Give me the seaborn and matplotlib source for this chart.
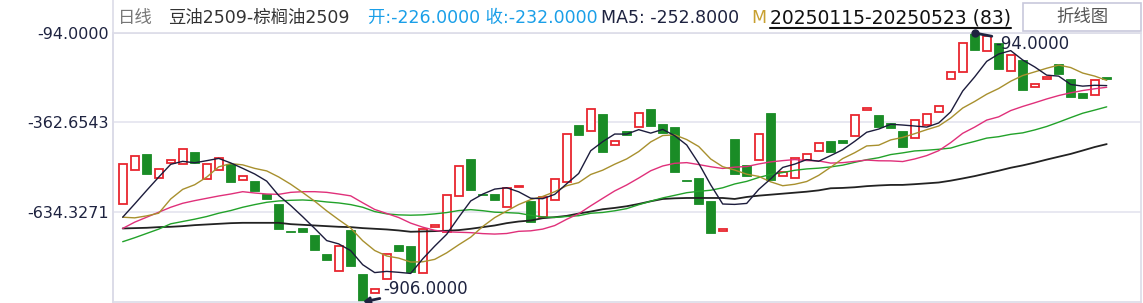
import numpy as np
import pandas as pd
import matplotlib
matplotlib.use("Agg")
import matplotlib.pyplot as plt
import seaborn as sns
from matplotlib.lines import Line2D
from matplotlib.patches import Rectangle

# ---------------- data ----------------
opens = [-610, -507, -460, -531, -485, -488, -454, -534, -507, -488,
         -537, -542, -579, -609, -692, -682, -703, -760, -813, -688,
         -821, -878, -838, -733, -736, -819, -680, -694, -585, -475,
         -581, -581, -619, -558, -600, -648, -598, -543, -372, -391,
         -339, -431, -390, -377, -324, -369, -378, -539, -533, -600,
         -692, -415, -493, -476, -336, -527, -531, -478, -450, -421,
         -418, -406, -326, -342, -367, -390, -412, -373, -333, -234,
         -212, -94, -148, -123, -210, -175, -258, -232, -188, -232,
         -275, -282, -226]
closes = [-488, -464, -520, -504, -476, -443, -486, -488, -470, -544,
          -525, -571, -596, -687, -695, -694, -748, -779, -737, -797,
          -906, -867, -761, -751, -814, -686, -675, -582, -494, -568,
          -583, -599, -561, -556, -665, -590, -534, -400, -401, -322,
          -453, -419, -401, -334, -374, -397, -514, -541, -611, -699,
          -686, -520, -526, -400, -539, -514, -470, -458, -425, -453,
          -426, -343, -321, -377, -380, -438, -358, -337, -315, -212,
          -124, -144, -103, -204, -161, -265, -249, -227, -219, -287,
          -290, -236, -232]

# moving-average values before each window is full
ma5_lead = [-650, -610, -569, -529]
ma10_lead = [-650, -652, -646, -638, -595, -566, -552, -529, -498]
ma20_lead = [-684, -665, -650, -635, -620, -608, -600, -593, -586, -580,
             -573, -577, -580, -581, -575, -573, -573, -575, -580]
ma30_lead = [-724, -712, -699, -686, -670, -663, -656, -648, -638, -630,
             -620, -612, -605, -601, -599, -598, -600, -604, -607, -612,
             -620, -633, -640, -643, -644, -643, -640, -636, -630]
ma60_lead = [-684, -683, -682, -680, -679, -677, -674, -672, -670, -668,
             -667, -667, -667, -667, -671, -673, -675, -677, -679, -680,
             -683, -685, -687, -690, -694, -693, -692, -691, -689, -685,
             -680, -675, -668, -663, -660, -653, -650, -646, -639, -633,
             -626, -622, -617, -610, -602, -595, -593, -592, -592, -592,
             -592, -595, -589, -585, -582, -579, -576, -573, -569]

y_ticks = [-94.0, -362.6543, -634.3271]
y_range = [-906.0, -94.0]
high_label = "-94.0000"
low_label = "-906.0000"

title_name = "日线"
title_pair = "豆油2509-棕榈油2509"
open_close_text = "开:-226.0000 收:-232.0000"
ma5_text = "MA5: -252.8000"
ma10_stub = "M"
date_text = "20250115-20250523 (83)"
button_text = "折线图"

# ---------------- styling ----------------
sns.set_theme(style="white")
plt.rcParams["font.family"] = ["DejaVu Sans", "Noto Sans CJK SC"]

W, H = 1143, 303
fig = plt.figure(figsize=(W / 100, H / 100), dpi=100)
fig.patch.set_facecolor("white")

def fx(px):
    return px / W

def fy(py):
    return 1 - py / H

ax = fig.add_axes([fx(113), fy(302), fx(1141) - fx(113), fy(33) - fy(302)])
ax.set_facecolor("white")

n = len(closes)
idx = np.arange(n)
s = pd.Series(closes, dtype=float)

def ma(win, lead):
    m = s.rolling(win).mean().to_numpy()
    m[: win - 1] = lead
    return m

ma_df = pd.DataFrame({
    "i": idx,
    "MA5": ma(5, ma5_lead),
    "MA10": ma(10, ma10_lead),
    "MA20": ma(20, ma20_lead),
    "MA30": ma(30, ma30_lead),
    "MA60": ma(60, ma60_lead),
})

# grid
for v in y_ticks:
    ax.axhline(v, color="#e6e6f0", lw=1.3, zorder=0)

# candles
RED = "#e8262f"
GREEN = "#1a8c26"
o = np.array(opens, dtype=float)
c = np.array(closes, dtype=float)
up = c >= o
ax.bar(idx[up], (c - o)[up], bottom=o[up], width=0.64, facecolor="white",
       edgecolor=RED, linewidth=1.3, zorder=2)
ax.bar(idx[~up], (c - o)[~up], bottom=o[~up], width=0.72, facecolor=GREEN,
       edgecolor=GREEN, linewidth=0.6, zorder=2)

# moving averages
line_styles = [("MA60", "#222222", 1.3), ("MA30", "#22a22a", 1.0),
               ("MA20", "#e0307a", 1.0), ("MA10", "#a8902e", 1.0),
               ("MA5", "#1c1c3c", 1.0)]
for name, col, lw in line_styles:
    sns.lineplot(data=ma_df, x="i", y=name, ax=ax, color=col, lw=lw,
                 zorder=3, legend=False)

ax.set_xlim((113 - 122.7) / 12, (1141 - 122.7) / 12)
ax.set_ylim(y_range[0], y_range[1])
ax.set_xlabel("")
ax.set_ylabel("")
ax.set_xticks([])
ax.set_yticks(y_ticks)
ax.set_yticklabels([f"{v:.4f}" for v in y_ticks])
ax.tick_params(axis="y", length=0, pad=3, labelsize=11.5, labelcolor="#1e2340")
for sp in ax.spines.values():
    sp.set_visible(True)
    sp.set_color("#dcdce8")
    sp.set_linewidth(1.2)

# high / low annotations
i_hi = int(np.argmax(o))
i_lo = int(np.argmin(c))
ax.plot([i_hi], [opens[i_hi]], "o", color="#1e2340", ms=5, zorder=5, clip_on=False)
ax.annotate(high_label, xy=(i_hi, opens[i_hi]), xytext=(i_hi + 1.7, -127),
            fontsize=12, color="#1e2340", va="center", ha="left",
            arrowprops=dict(arrowstyle="-", color="#1e2340", lw=2,
                            shrinkA=0, shrinkB=0),
            annotation_clip=False, zorder=5)
ax.annotate(low_label, xy=(i_lo, closes[i_lo]), xytext=(i_lo + 1.7, -867),
            fontsize=12, color="#1e2340", va="center", ha="left",
            arrowprops=dict(arrowstyle="-|>", color="#1e2340", lw=2,
                            mutation_scale=9, shrinkA=0, shrinkB=0),
            annotation_clip=False, zorder=5)

# left border line extends through header
fig.add_artist(Line2D([fx(113), fx(113)], [fy(302), 1.0], color="#dcdce8", lw=1.2))

# header
hy = fy(18)
fig.text(fx(118), hy, title_name, color="#777777", fontsize=12.5, va="center")
fig.text(fx(168), hy, title_pair, color="#333333", fontsize=12.5, va="center")
fig.text(fx(368), hy, open_close_text, color="#1a9fe8", fontsize=12.5, va="center")
fig.text(fx(601), hy, ma5_text, color="#1e2340", fontsize=12.5, va="center")
fig.text(fx(751), hy, ma10_stub, color="#c8a030", fontsize=12.5, va="center")
dt = fig.text(fx(770), hy, date_text, color="#111111", fontsize=13.5, va="center")

# button
fig.add_artist(Rectangle((fx(1023), fy(31)), fx(1141) - fx(1023), fy(3) - fy(31),
                         facecolor="white", edgecolor="#c8c8dc", lw=1.2))
fig.text(fx(1082), fy(17), button_text, color="#555555", fontsize=12.5,
         va="center", ha="center")

fig.canvas.draw()
bb = dt.get_window_extent()
fig.add_artist(Line2D([bb.x0 / W, bb.x1 / W], [(bb.y0 - 0.5) / H, (bb.y0 - 0.5) / H],
                      color="#111111", lw=1.5))

fig.savefig("out.png", dpi=100, facecolor="white")
